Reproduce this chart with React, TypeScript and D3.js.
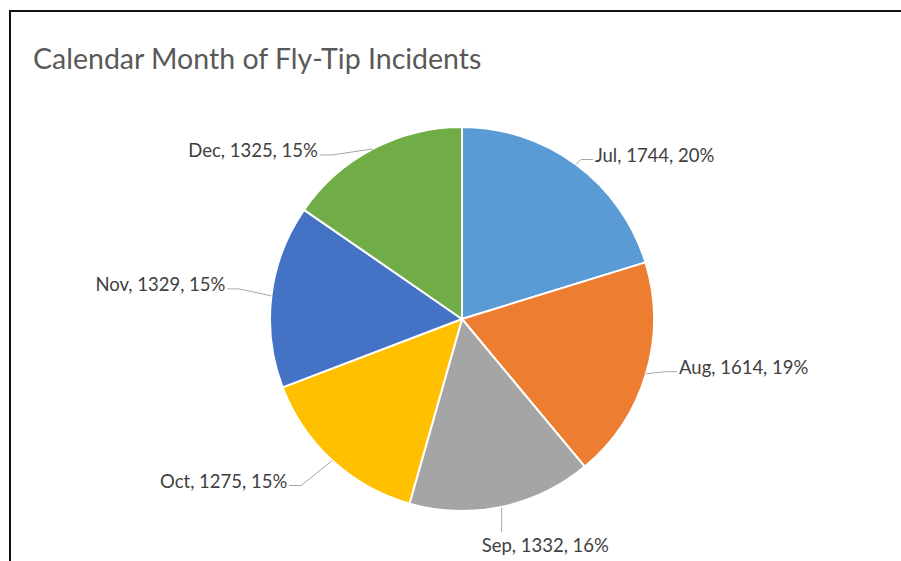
import { useEffect, useRef } from "react";
import * as d3 from "d3";

const months = ["Jul", "Aug", "Sep", "Oct", "Nov", "Dec"];
const incidents = [1744, 1614, 1332, 1275, 1329, 1325];
const percentLabels = ["20%", "19%", "16%", "15%", "15%", "15%"];
const sliceColors = ["#5B9BD5", "#ED7D31", "#A5A5A5", "#FFC000", "#4472C4", "#70AD47"];

const WIDTH = 901;
const HEIGHT = 561;
const CX = 462;
const CY = 319;
const RADIUS = 192;

// label placement relative to the slice's outer edge point (Excel-style manual layout)
const LABEL_LAYOUT = [
  { dx: 19, dy: -10, anchor: "start" },
  { dx: 33, dy: -7, anchor: "start" },
  { dx: -20, dy: 38, anchor: "start", vertical: true },
  { dx: -45, dy: 20, anchor: "end" },
  { dx: -46, dy: -12, anchor: "end" },
  { dx: -55, dy: 1, anchor: "end" },
];

interface Datum {
  month: string;
  value: number;
  pct: string;
  color: string;
}

export default function App() {
  const svgRef = useRef<SVGSVGElement>(null);

  useEffect(() => {
    if (!svgRef.current) return;
    const svg = d3.select(svgRef.current);
    svg.selectAll("*").remove();

    const data: Datum[] = months.map((m, i) => ({
      month: m,
      value: incidents[i],
      pct: percentLabels[i],
      color: sliceColors[i],
    }));

    svg.append("rect").attr("width", WIDTH).attr("height", HEIGHT).attr("fill", "#fff");

    // chart frame (left and top edges visible)
    svg
      .append("path")
      .attr("d", `M10,${HEIGHT} L10,11 L${WIDTH},11`)
      .attr("fill", "none")
      .attr("stroke", "#111")
      .attr("stroke-width", 2);

    svg
      .append("text")
      .attr("x", 33)
      .attr("y", 58)
      .attr("dominant-baseline", "central")
      .attr("fill", "#595959")
      .attr("font-family", "Lato, 'Open Sans', sans-serif")
      .attr("font-size", "28.5px")
      .text("Calendar Month of Fly-Tip Incidents");

    const pie = d3
      .pie<Datum>()
      .value((d) => d.value)
      .sort(null);
    const arcs = pie(data);

    const arc = d3.arc<d3.PieArcDatum<Datum>>().innerRadius(0).outerRadius(RADIUS);
    const edgeArc = d3
      .arc<d3.PieArcDatum<Datum>>()
      .innerRadius(RADIUS)
      .outerRadius(RADIUS);

    const g = svg.append("g").attr("transform", `translate(${CX},${CY})`);

    g.selectAll("path.slice")
      .data(arcs)
      .join("path")
      .attr("class", "slice")
      .attr("d", arc)
      .attr("fill", (d) => d.data.color)
      .attr("stroke", "#fff")
      .attr("stroke-width", 2)
      .attr("stroke-linejoin", "round");

    // leader lines + labels
    arcs.forEach((a, i) => {
      const [ex, ey] = edgeArc.centroid(a);
      const lay = LABEL_LAYOUT[i];
      const tx = ex + lay.dx;
      const ty = ey + lay.dy;
      let pts: [number, number][];
      if (lay.vertical) {
        pts = [
          [ex, ey + 1],
          [ex, ty - 13],
        ];
      } else {
        const side = lay.anchor === "start" ? 1 : -1;
        const endX = tx - side * 2;
        const endY = ty + 5;
        pts = [
          [ex, ey],
          [endX - side * 12, endY],
          [endX, endY],
        ];
      }
      g.append("path")
        .attr("d", d3.line()(pts))
        .attr("fill", "none")
        .attr("stroke", "#A6A6A6")
        .attr("stroke-width", 1);

      g.append("text")
        .attr("x", tx)
        .attr("y", ty)
        .attr("text-anchor", lay.anchor)
        .attr("dominant-baseline", "central")
        .attr("fill", "#404040")
        .attr("font-family", "Lato, 'Open Sans', sans-serif")
        .attr("font-size", "18.5px")
        .text(`${a.data.month}, ${a.data.value}, ${a.data.pct}`);
    });
  }, []);

  return (
    <svg
      ref={svgRef}
      width={WIDTH}
      height={HEIGHT}
      style={{ position: "absolute", left: 0, top: 0, display: "block" }}
    />
  );
}
